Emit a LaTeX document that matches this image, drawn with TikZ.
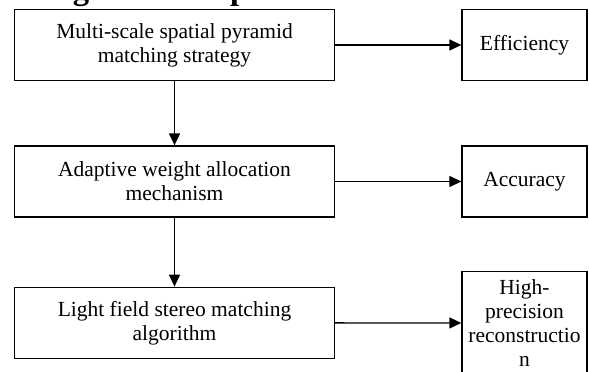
\documentclass[tikz,border=0pt]{standalone}
\usepackage{fontspec}
\setmainfont{Liberation Serif}
\usetikzlibrary{arrows.meta}
\begin{document}
\begin{tikzpicture}[x=1pt,y=-1pt,
  box/.style={draw=black,line width=1.3pt,minimum width=320pt,minimum height=71pt,
    inner sep=0pt,align=center,font=\fontsize{21.5}{24}\selectfont},
  sidebox/.style={box,minimum width=125pt},
  link/.style={line width=1.3pt,-{Triangle[length=12pt,width=11pt]}}]
\useasboundingbox (0,0) rectangle (589,372);
\clip (0,0) rectangle (589,372);
% heading, mostly above the page edge
\node[anchor=base west,inner sep=0pt,font=\bfseries\fontsize{32.7}{36}\selectfont] (title) at (40,-0.5) {Algorithm improvements};
% left column: methods
\node[box] (ms) at (174.5,45) {Multi-scale spatial pyramid\\matching strategy};
\node[box] (aw) at (174.5,181.5) {Adaptive weight allocation\\mechanism};
\node[box] (lf) at (174.5,322.8) {Light field stereo matching\\algorithm};
% right column: outcomes
\node[sidebox] (eff) at (524.5,45) {Efficiency};
\node[sidebox] (acc) at (524.5,181.5) {Accuracy};
\node[sidebox,minimum height=103pt] (hp) at (524.5,323) {High-\\precision\\reconstructio\\n};
% connectors
\draw[link] (ms) -- (aw);
\draw[link] (aw) -- (lf);
\draw[link] (ms) -- (eff);
\draw[link] (aw) -- (acc);
\draw[link] (lf) -- (hp);
\end{tikzpicture}
\end{document}
